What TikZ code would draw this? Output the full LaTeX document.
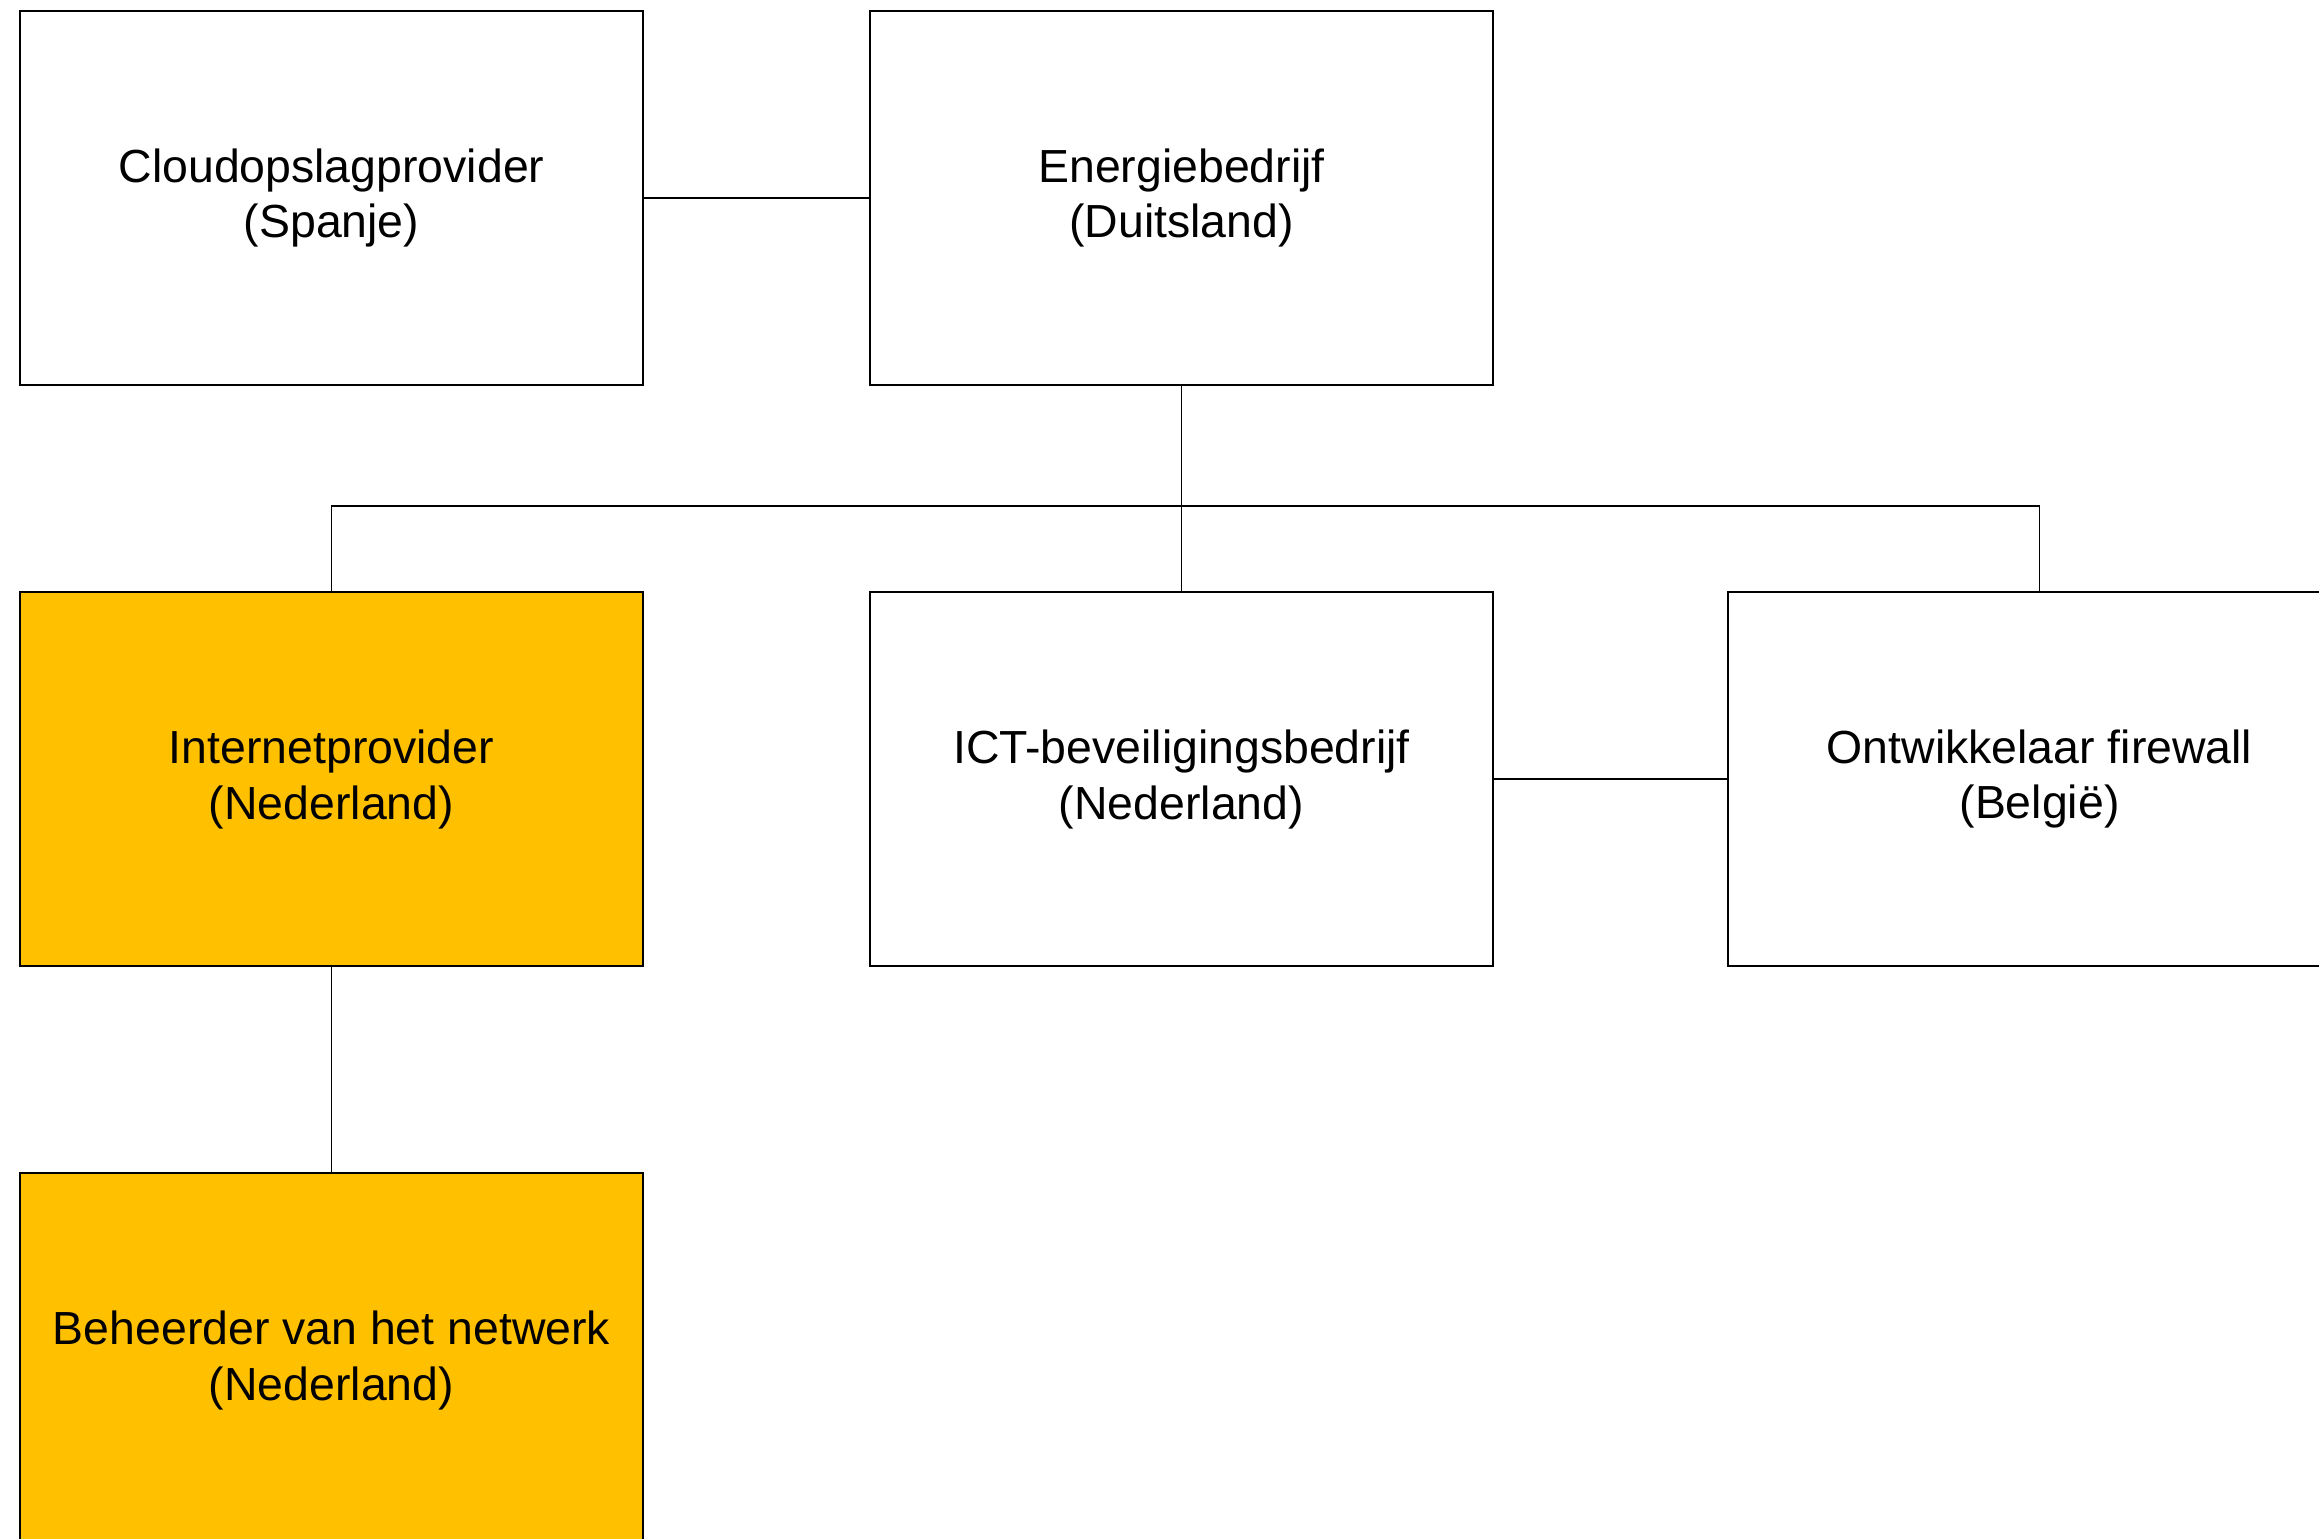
\documentclass[tikz,border=0pt]{standalone}
\usepackage{fontspec}
\setmainfont{Liberation Sans}
\usepackage{xcolor}
\usepackage{tikz}
\usetikzlibrary{positioning,calc}
\definecolor{gold}{HTML}{FFC000}
\tikzset{
    party/.style={draw, line width=0.5pt, minimum width=6.23cm, minimum height=3.74cm,
        inner sep=0pt, align=center, font=\fontsize{13.2}{15.9}\selectfont},
    link/.style={line width=0.5pt}
}

\begin{document}
\begin{tikzpicture}[x=0.01cm, y=-0.01cm]
    \useasboundingbox (0,0) rectangle (2319,1538);
    \clip (0,0) rectangle (2319,1538);

    % Parties
    \node[party] (cloud) at (331.5,198) {Cloudopslagprovider\\(Spanje)};
    \node[party] (energie) at (1181.5,198) {Energiebedrijf\\(Duitsland)};
    \node[party, fill=gold] (internet) at (331.5,779) {Internetprovider\\(Nederland)};
    \node[party] (ict) at (1181.5,779) {ICT-beveiligingsbedrijf\\(Nederland)};
    \node[party] (ontwikkelaar) at (2039.5,779) {Ontwikkelaar firewall\\(Belgi\"e)};
    \node[party, fill=gold] (beheerder) at (331.5,1360) {Beheerder van het netwerk\\(Nederland)};

    % Connections
    \coordinate (bus) at (1181.5,506);
    \draw[link] (cloud) -- (energie);
    \draw[link] (energie) -- (ict);
    \draw[link] (internet.north) |- (bus) -| (ontwikkelaar.north);
    \draw[link] (ict) -- (ontwikkelaar);
    \draw[link] (internet) -- (beheerder);
\end{tikzpicture}
\end{document}
